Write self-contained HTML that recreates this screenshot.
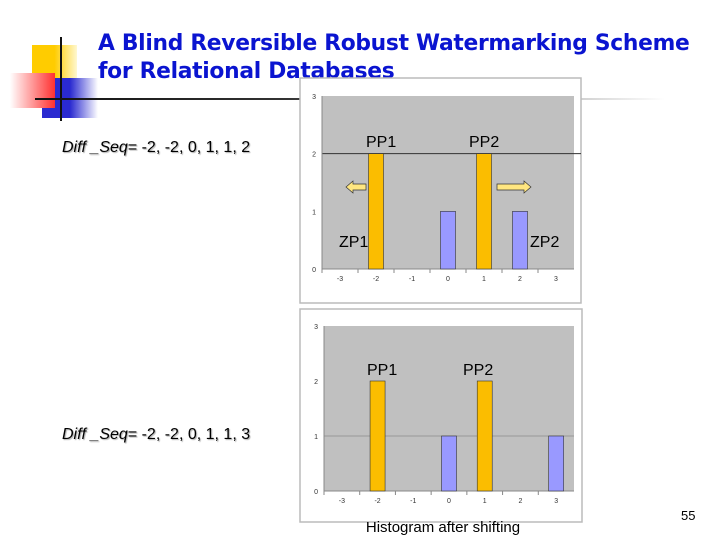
<!DOCTYPE html>
<html><head><meta charset="utf-8">
<style>
body{margin:0;width:720px;height:540px;background:#fff;overflow:hidden;position:relative;font-family:"Liberation Sans",sans-serif}
.abs{position:absolute}
.title{left:98px;top:30px;color:#0a14d0;font-family:"DejaVu Sans","Liberation Sans",sans-serif;font-weight:bold;font-size:21.8px;line-height:28px;letter-spacing:-0.3px}
.seq{font-size:16px;color:#000;text-shadow:1px 1px 1px #aaa}
</style></head>
<body>
<div class="abs" style="left:32px;top:45px;width:45px;height:34px;background:linear-gradient(90deg,#ffcc00 50%,#fff8d0)"></div>
<div class="abs" style="left:42px;top:78px;width:56px;height:40px;background:linear-gradient(90deg,#2a2ad0 50%,#fff)"></div>
<div class="abs" style="left:10px;top:73px;width:45px;height:35px;background:linear-gradient(90deg,#fff,#ff3030)"></div>
<div class="abs" style="left:60px;top:37px;width:2px;height:84px;background:#111"></div>
<div class="abs" style="left:35px;top:98px;width:630px;height:2px;background:linear-gradient(90deg,#111,#333 40%,#fff)"></div>
<div class="abs title">A Blind Reversible Robust Watermarking Scheme<br>for Relational Databases</div>
<div class="abs seq" style="left:62px;top:139px"><i>Diff _Seq</i>= -2, -2, 0, 1, 1, 2</div>
<div class="abs seq" style="left:62px;top:426px"><i>Diff _Seq</i>= -2, -2, 0, 1, 1, 3</div>
<div class="abs" style="left:681px;top:508px;font-size:13px">55</div>

<svg class="abs" style="left:0;top:0" width="720" height="540" id="charts"></svg>

<script>
const categories=[-3,-2,-1,0,1,2,3];
const before=[0,2,0,1,2,1,0];
const after=[0,2,0,1,2,0,1];
const yTicks=[0,1,2,3];
const NS='http://www.w3.org/2000/svg';
const svg=document.getElementById('charts');
function mk(t,a,p){const e=document.createElementNS(NS,t);for(const k in a)e.setAttribute(k,a[k]);(p||svg).appendChild(e);return e;}
function colorFor(c){return (c===-2||c===1)?'#fbbd00':'#9999ff';}
function chart(cfg,vals,name,grid){
  const g=mk('g',{});
  
  
  mk('rect',{x:cfg.fx,y:cfg.fy,width:cfg.fw,height:cfg.fh,fill:'#fff',stroke:'#bbb','stroke-width':1.5},g);
  mk('rect',{x:cfg.x0,y:cfg.top,width:cfg.x1-cfg.x0,height:cfg.bot-cfg.top,fill:'#c0c0c0'},g);
  const y=v=>cfg.bot-(cfg.bot-cfg.top)*v/3;
  const bw=(cfg.x1-cfg.x0)/categories.length;
  const x=i=>cfg.x0+bw*(i+0.5);
  yTicks.forEach(t=>{
    const l=mk('text',{x:cfg.x0-6,y:y(t)+3,'font-size':7,'text-anchor':'end',fill:'#333'},g);l.textContent=t;
    
    
  });
  mk('line',{x1:cfg.x0,x2:grid.ext,y1:y(grid.v),y2:y(grid.v),stroke:grid.c,'stroke-width':1},g);
  mk('line',{x1:cfg.x0,x2:cfg.x0,y1:cfg.top,y2:cfg.bot,stroke:'#888'},g);
  mk('line',{x1:cfg.x0,x2:cfg.x1,y1:cfg.bot,y2:cfg.bot,stroke:'#888'},g);
  categories.forEach((c,i)=>{
    const l=mk('text',{x:x(i),y:cfg.bot+12,'font-size':7,'text-anchor':'middle',fill:'#333'},g);l.textContent=c;
    
    
    mk('line',{x1:cfg.x0+bw*i,x2:cfg.x0+bw*i,y1:cfg.bot,y2:cfg.bot+4,stroke:'#888'},g);
    if(vals[i]>0){
      const r=mk('rect',{x:x(i)-7.5,y:y(vals[i]),width:15,height:y(0)-y(vals[i]),fill:colorFor(c),stroke:'#333','stroke-width':0.6},g);
      
      
    }
  });
  return {x,y};
}
const c1=chart({fx:300,fy:78,fw:281,fh:225,x0:322,x1:574,top:96,bot:269},before,'histogram-before',{v:2,c:'#333',ext:581});
const c2=chart({fx:300,fy:309,fw:282,fh:213,x0:324,x1:574,top:326,bot:491},after,'histogram-after',{v:1,c:'#999',ext:574});
function lab(t,x,y,n){const e=mk('text',{x,y,'font-size':16,fill:'#000'});e.textContent=t;
  
  }
lab('PP1',366,147,'pp1-label');lab('PP2',469,147,'pp2-label');
lab('ZP1',339,247,'zp1-label');lab('ZP2',530,247,'zp2-label');
lab('PP1',367,375,'pp1-label-2');lab('PP2',463,375,'pp2-label-2');
const a1=mk('polygon',{points:'346,187 353,181 353,184 366,184 366,190 353,190 353,193',fill:'#ffe680',stroke:'#333','stroke-width':0.7});


const a2=mk('polygon',{points:'531,187 524,181 524,184 497,184 497,190 524,190 524,193',fill:'#ffe680',stroke:'#333','stroke-width':0.7});


const cap=mk('text',{x:443,y:532,'font-size':15,'text-anchor':'middle',fill:'#000'});cap.textContent='Histogram after shifting';


</script>
</body></html>
